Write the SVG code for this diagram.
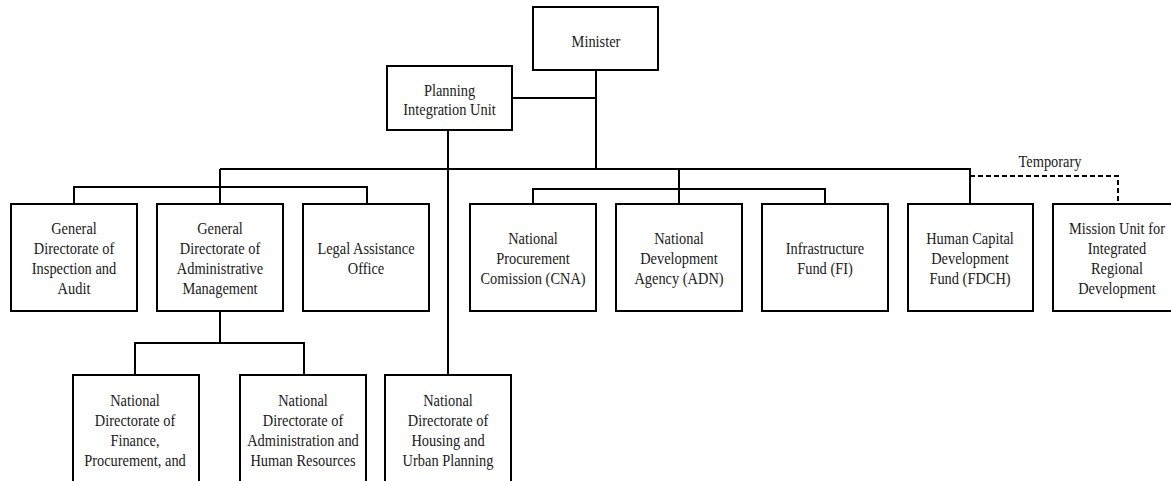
<svg xmlns="http://www.w3.org/2000/svg" width="1171" height="481" viewBox="0 0 1171 481">
  <style>
    .box { fill: #ffffff; stroke: #000000; stroke-width: 2; }
    .line { fill: none; stroke: #000000; stroke-width: 2; }
    .dash { fill: none; stroke: #000000; stroke-width: 2; stroke-dasharray: 5 3; }
    text { font-family: "Liberation Serif", "Times New Roman", serif; font-size: 16px; fill: #1a1a1a; text-anchor: middle; }
  </style>
  <rect width="1171" height="481" fill="#ffffff"/>

  <!-- connectors -->
  <g id="connectors">
    <!-- Minister trunk and Planning Integration Unit link -->
    <path class="line" d="M596 70 V169"/>
    <path class="line" d="M512 98 H596"/>
    <!-- main bus -->
    <path class="line" d="M220 169 H970 V204"/>
    <!-- left branch -->
    <path class="line" d="M220 169 V204"/>
    <path class="line" d="M74 204 V187 H367 V204"/>
    <!-- middle branch -->
    <path class="line" d="M679 169 V204"/>
    <path class="line" d="M533 204 V189 H825 V204"/>
    <!-- temporary link -->
    <path class="dash" d="M970 176 H1118 V204"/>
    <!-- Planning Integration Unit to housing directorate -->
    <path class="line" d="M448 130 V375"/>
    <!-- administrative management sub-branch -->
    <path class="line" d="M220 311 V343"/>
    <path class="line" d="M135 375 V343 H304 V375"/>
  </g>
  <g transform="translate(1050 0) scale(0.9 1)"><text x="0" y="167">Temporary</text></g>

  <g id="minister">
    <rect class="box" x="533" y="7" width="125" height="63"/>
    <g transform="translate(596 0) scale(0.9 1)">
      <text x="0" y="47">Minister</text>
    </g>
  </g>

  <g id="planning-integration-unit">
    <rect class="box" x="387" y="66" width="125" height="64"/>
    <g transform="translate(449.5 0) scale(0.9 1)">
      <text x="0" y="96">Planning</text>
      <text x="0" y="115.5">Integration Unit</text>
    </g>
  </g>

  <g id="inspection-audit">
    <rect class="box" x="11" y="204" width="126" height="107"/>
    <g transform="translate(74 0) scale(0.9 1)">
      <text x="0" y="234.5">General</text>
      <text x="0" y="254.5">Directorate of</text>
      <text x="0" y="274.5">Inspection and</text>
      <text x="0" y="294.5">Audit</text>
    </g>
  </g>

  <g id="administrative-management">
    <rect class="box" x="157" y="204" width="126" height="107"/>
    <g transform="translate(220 0) scale(0.9 1)">
      <text x="0" y="234.5">General</text>
      <text x="0" y="254.5">Directorate of</text>
      <text x="0" y="274.5">Administrative</text>
      <text x="0" y="294.5">Management</text>
    </g>
  </g>

  <g id="legal-assistance">
    <rect class="box" x="303" y="204" width="126" height="107"/>
    <g transform="translate(366 0) scale(0.9 1)">
      <text x="0" y="254.5">Legal Assistance</text>
      <text x="0" y="274.5">Office</text>
    </g>
  </g>

  <g id="cna">
    <rect class="box" x="470" y="204" width="126" height="107"/>
    <g transform="translate(533 0) scale(0.9 1)">
      <text x="0" y="244.5">National</text>
      <text x="0" y="264.5">Procurement</text>
      <text x="0" y="284.5">Comission (CNA)</text>
    </g>
  </g>

  <g id="adn">
    <rect class="box" x="616" y="204" width="126" height="107"/>
    <g transform="translate(679 0) scale(0.9 1)">
      <text x="0" y="244.5">National</text>
      <text x="0" y="264.5">Development</text>
      <text x="0" y="284.5">Agency (ADN)</text>
    </g>
  </g>

  <g id="infrastructure-fund">
    <rect class="box" x="762" y="204" width="126" height="107"/>
    <g transform="translate(825 0) scale(0.9 1)">
      <text x="0" y="254.5">Infrastructure</text>
      <text x="0" y="274.5">Fund (FI)</text>
    </g>
  </g>

  <g id="fdch">
    <rect class="box" x="908" y="204" width="125" height="107"/>
    <g transform="translate(970 0) scale(0.9 1)">
      <text x="0" y="244.5">Human Capital</text>
      <text x="0" y="264.5">Development</text>
      <text x="0" y="284.5">Fund (FDCH)</text>
    </g>
  </g>

  <g id="mission-unit">
    <rect class="box" x="1053" y="204" width="127" height="107"/>
    <g transform="translate(1117 0) scale(0.9 1)">
      <text x="0" y="234.5">Mission Unit for</text>
      <text x="0" y="254.5">Integrated</text>
      <text x="0" y="274.5">Regional</text>
      <text x="0" y="294.5">Development</text>
    </g>
  </g>

  <g id="finance-procurement">
    <rect class="box" x="73" y="375" width="126" height="120"/>
    <g transform="translate(135 0) scale(0.9 1)">
      <text x="0" y="406">National</text>
      <text x="0" y="426">Directorate of</text>
      <text x="0" y="446">Finance,</text>
      <text x="0" y="466">Procurement, and</text>
    </g>
  </g>

  <g id="administration-hr">
    <rect class="box" x="240" y="375" width="126" height="120"/>
    <g transform="translate(303 0) scale(0.9 1)">
      <text x="0" y="406">National</text>
      <text x="0" y="426">Directorate of</text>
      <text x="0" y="446">Administration and</text>
      <text x="0" y="466">Human Resources</text>
    </g>
  </g>

  <g id="housing-urban">
    <rect class="box" x="385" y="375" width="126" height="120"/>
    <g transform="translate(448 0) scale(0.9 1)">
      <text x="0" y="406">National</text>
      <text x="0" y="426">Directorate of</text>
      <text x="0" y="446">Housing and</text>
      <text x="0" y="466">Urban Planning</text>
    </g>
  </g>
</svg>
